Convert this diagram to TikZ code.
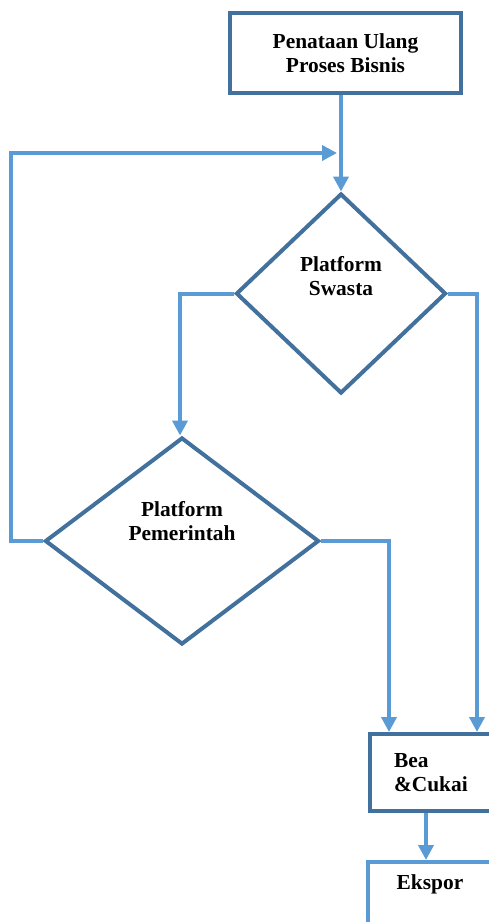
\documentclass[tikz,border=0pt]{standalone}
\usepackage{fontspec}
\setmainfont{Liberation Serif}
\usetikzlibrary{shapes.geometric}
\usetikzlibrary{arrows.meta}
\definecolor{garis}{HTML}{41719C}
\definecolor{panah}{HTML}{5B9BD5}

\begin{document}
\begin{tikzpicture}[x=1pt,y=-1pt]
\tikzstyle{flow} = [line width=4pt,draw=panah,-{Triangle[length=15pt,width=15pt]}]
\tikzstyle{teks} = [font=\fontsize{21.4}{24.6}\selectfont\bfseries,align=center,inner sep=0pt]
\tikzstyle{kotak} = [rectangle,draw=garis,line width=4.5pt]
\tikzstyle{keputusan} = [diamond,draw=garis,line width=4pt,inner sep=0pt]
\useasboundingbox (0,0) rectangle (489,922);
% proses awal
\node[kotak,teks,minimum width=231pt,minimum height=80pt] (proses) at (345.5,53) {Penataan Ulang\\Proses Bisnis};
% keputusan
\node[keputusan,minimum width=210pt,minimum height=200pt] (swasta) at (341,293.5) {};
\node[teks] (swasta-teks) at ([yshift=17.5pt]swasta.center) {Platform\\Swasta};
\node[keputusan,minimum width=274pt,minimum height=207pt] (pemerintah) at (182,541) {};
\node[teks] (pemerintah-teks) at ([yshift=20pt]pemerintah.center) {Platform\\Pemerintah};
% akhir
\node[kotak,line width=4pt,anchor=north west,minimum height=77pt,text width=122pt,
  inner xsep=24pt,inner ysep=0pt,align=left,font=\fontsize{21.4}{24.6}\selectfont\bfseries] (bea) at (368,732) {Bea\\\&Cukai};
\node[kotak,draw=panah,line width=4pt,anchor=north west,minimum width=160pt,minimum height=120pt] (ekspor) at (366,860) {};
\node[teks] (ekspor-teks) at ([xshift=64pt,yshift=-24pt]ekspor.north west) {Ekspor};
\coordinate (masuk) at (swasta.north |- 0,153);
% panah
\draw[flow] (proses.south -| swasta.north) -- (swasta.north);
\draw[flow,shorten >=4pt] (pemerintah.west) -- ++(-32,0) |- (masuk);
\draw[flow] (swasta.west) -| ([xshift=-2pt]pemerintah.north);
\draw[flow] (swasta.east) -| ([xshift=109pt]bea.north west);
\draw[flow] (pemerintah.east) -| ([xshift=21pt]bea.north west);
\draw[flow] ([xshift=58pt]bea.south west) -- ([xshift=60pt]ekspor.north west);
\end{tikzpicture}
\end{document}
